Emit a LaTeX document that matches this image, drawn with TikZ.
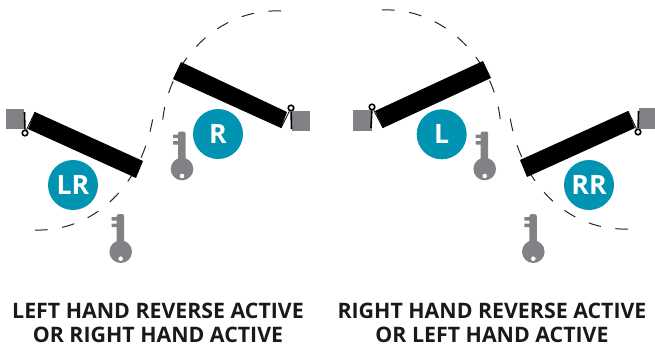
\documentclass[tikz,border=0pt]{standalone}
\usepackage{xcolor}
\usepackage{fontspec}
\setsansfont{Open Sans}
\usetikzlibrary{positioning}
\definecolor{badgeteal}{HTML}{0093B2}
\definecolor{hwgray}{HTML}{808285}

\begin{document}
\begin{tikzpicture}[
x=0.75pt, y=-0.75pt,
font=\sffamily\bfseries,
door/.style={fill=black, draw=none},
wall/.style={fill=hwgray, draw=none},
swing/.style={draw=black!85, line width=0.75pt, dash pattern=on 9.5pt off 11pt},
thinline/.style={draw=black, line width=0.6pt},
jamb/.style={draw=black, line width=1.2pt},
hinge/.style={circle, draw=black, line width=1.2pt, fill=white, minimum size=4.2pt, inner sep=0pt},
badge/.style={circle, fill=badgeteal, text=white, minimum size=37.5pt, inner sep=0pt, font=\sffamily\bfseries\fontsize{20}{20}\selectfont},
caption/.style={align=center, text=black!90, inner sep=0pt, font=\sffamily\bfseries\fontsize{16}{18}\selectfont},
doorkey/.pic={
  \fill[hwgray] (0,0) circle (11.3);
  \fill[hwgray, rounded corners=1.5pt] (-4,-37.5) -- (3.5,-37.5) -- (3.5,0) -- (-4,0) -- cycle;
  \fill[hwgray] (-9,-34.5) rectangle (-3,-31) (-9,-28) rectangle (-3,-24.5);
  \fill[white] (0,7) circle (2.3);
}
]
\clip (0,0) rectangle (655,347);

% --- LEFT PAIR ---
\draw[swing] (35,230) .. controls (90,232) and (143,190) .. (154,111);
\draw[swing] (281,11) .. controls (220,8) and (165,60) .. (162,129);

\fill[wall] (6,109) rectangle (24,129);
\fill[wall] (292,111) rectangle (310,131);
\fill[door] (35,112) -- (143,161) -- (136,178) -- (28,129) -- cycle;
\fill[door] (181,62) -- (287,112) -- (281,128) -- (173,79) -- cycle;

\node[hinge] (hingeLR) at (25,133) {};
\node[hinge] (hingeR) at (291,108) {};
\coordinate (jambLR) at (24.5,112);
\coordinate (leafLR) at (35,112);
\coordinate (jambR) at (291.5,129);
\coordinate (leafR) at (281,128);
\draw[jamb] (hingeLR) -- (jambLR);
\draw[thinline] (hingeLR) -- (leafLR);
\draw[jamb] (hingeR) -- (jambR);
\draw[thinline] (hingeR) -- (leafR);

\node[badge] (badgeLR) at (73,185) {LR};
\node[badge] (badgeR) at (218,134) {R};
\pic at (182,169) {doorkey};
\pic at (120.7,251.7) {doorkey};

\node[caption] (capleft) at (158,323) {LEFT HAND REVERSE ACTIVE\\OR RIGHT HAND ACTIVE};

% --- RIGHT PAIR ---
\draw[swing] (628,229) .. controls (573,231) and (520,190) .. (509,111);
\draw[swing] (382,10) .. controls (443,7) and (498,60) .. (501,129);

\fill[wall] (353,110) rectangle (371.5,131);
\fill[wall] (639,108) rectangle (657,129);
\fill[door] (483,61) -- (491,78) -- (383,128) -- (375,111) -- cycle;
\fill[door] (628,111) -- (635,128) -- (527,177) -- (520,160) -- cycle;

\node[hinge] (hingeL) at (372,107) {};
\node[hinge] (hingeRR) at (638,132) {};
\coordinate (jambL) at (371,128);
\coordinate (leafL) at (383,128);
\coordinate (jambRR) at (638.5,111);
\coordinate (leafRR) at (628,111);
\draw[jamb] (hingeL) -- (jambL);
\draw[thinline] (hingeL) -- (leafL);
\draw[jamb] (hingeRR) -- (jambRR);
\draw[thinline] (hingeRR) -- (leafRR);

\node[badge] (badgeL) at (441.7,134.3) {L};
\node[badge] (badgeRR) at (589,185) {RR};
\pic at (484.7,169) {doorkey};
\pic at (533.3,251.7) {doorkey};

\node[caption] (capright) at (492,323) {RIGHT HAND REVERSE ACTIVE\\OR LEFT HAND ACTIVE};

\end{tikzpicture}
\end{document}
